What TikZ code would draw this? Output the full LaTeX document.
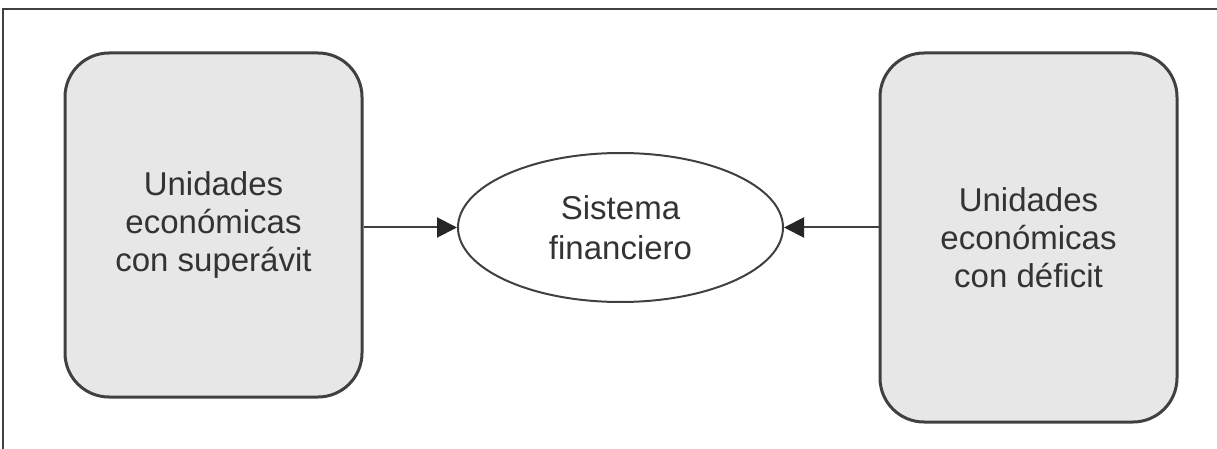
\documentclass[tikz,border=0pt]{standalone}
\usepackage{fontspec}
\setmainfont{Liberation Sans}
\usetikzlibrary{positioning,shapes.geometric,arrows.meta}
\definecolor{boxgray}{gray}{0.905}
\definecolor{linegray}{gray}{0.25}
\definecolor{textgray}{gray}{0.2}

\begin{document}
\begin{tikzpicture}[x=0.5pt,y=-0.5pt,
	unidad/.style={draw=linegray,line width=1.5pt,fill=boxgray,rounded corners=22pt,minimum width=148.5pt,align=center,text=textgray,font=\fontsize{16.5}{19}\selectfont},
	sistema/.style={ellipse,draw=linegray,line width=1pt,inner sep=0pt,minimum width=162.5pt,minimum height=74.5pt,align=center,text=textgray,font=\fontsize{16.5}{20}\selectfont},
	flujo/.style={draw=linegray,line width=1pt,-{Triangle[length=10pt,width=10pt,color=black!85]}}]
			\useasboundingbox (0,0) rectangle (1217,449);
			\draw[linegray,line width=1pt] (3,449) |- (1217,9.5);
			
			\node[unidad,minimum height=172pt] (sup) at (213.5,225) {Unidades\\económicas\\con superávit};
			\node[unidad,minimum height=184.5pt] (def) at (1028.5,237.5) {Unidades\\económicas\\con déficit};
			\node[sistema] (sis) at (620.5,227.5) {Sistema\\financiero};
			
			\draw[flujo] (sis.west -| sup.east)--(sis.west);
			\draw[flujo] (sis.east -| def.west)--(sis.east);
		\end{tikzpicture}
\end{document}
